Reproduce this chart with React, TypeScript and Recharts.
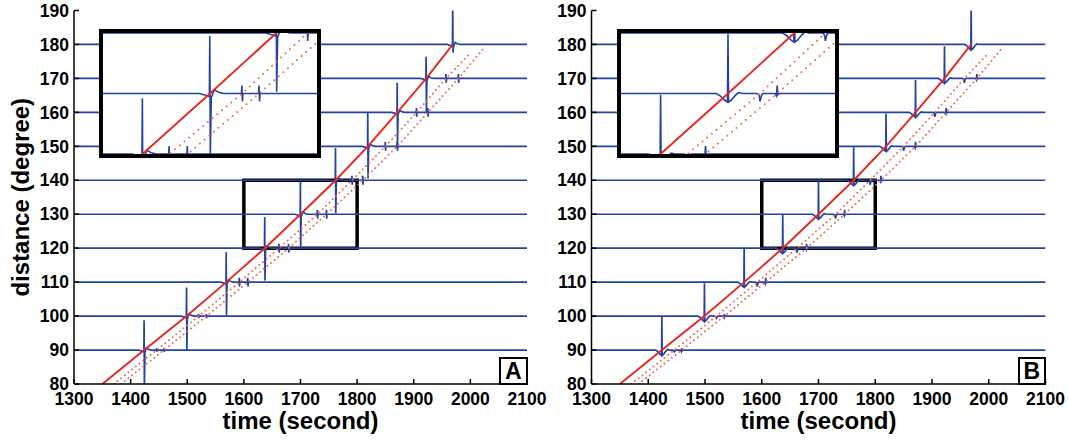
import { ComposedChart, Line, XAxis, YAxis, ReferenceArea } from "recharts";

const TIME_TICKS = [1300, 1400, 1500, 1600, 1700, 1800, 1900, 2000, 2100];
const DIST_TICKS = [80, 90, 100, 110, 120, 130, 140, 150, 160, 170, 180, 190];

// one recorded trace per electrode position (degree)
const LEVELS = [90, 100, 110, 120, 130, 140, 150, 160, 170, 180];
// time the front reaches each trace (s)
const ARRIVAL = [1424, 1499, 1569, 1637, 1700, 1762, 1819, 1871, 1922, 1969];

// solid red front line
const FRONT_T = [1350, 1424, 1499, 1569, 1637, 1700, 1762, 1819, 1871, 1922, 1969];
const FRONT_D = [80, 90, 100, 110, 120, 130, 140, 150, 160, 170, 180];
// dotted follower lines
const NEAR_T = [1370, 1446, 1520, 1592, 1662, 1730, 1791, 1850, 1905, 1957, 2000];
const NEAR_D = [80, 90, 100, 110, 120, 130, 140, 150, 160, 170, 177.5];
const FAR_T = [1383, 1459, 1534, 1607, 1679, 1746, 1810, 1871, 1925, 1979, 2022];
const FAR_D = [80, 90, 100, 110, 120, 130, 140, 150, 160, 170, 178.6];

// size of the small blips where the dotted lines cross a trace
const ECHO_SIZE = [0.5, 0.6, 1.3, 1.3, 1.3, 1.3, 1.3, 1.3, 1.3, 0];

// panel A: biphasic spike, top and bottom
const PEAK_A = [98.8, 108.4, 118.8, 129.2, 139.5, 149.5, 160, 168.7, 176.4, 193];
const TROUGH_A = [79, 90, 100.3, 110.5, 120, 130.3, 140.5, 149.5, 160, 177.6];
// panel B: upward spike sitting in a shallow dip
const PEAK_B = [99.9, 109.7, 119.8, 129.8, 139.8, 149.7, 159.6, 169.5, 179.5, 193];
const DIP_B = [1.6, 1.6, 1.5, 1.5, 1.4, 1.5, 1.5, 1.4, 1.4, 1.6];

type Pt = { t: number; d: number };
const toPts = (ts: number[], ds: number[]): Pt[] => ts.map((t, i) => ({ t, d: ds[i] }));

const FRONT = toPts(FRONT_T, FRONT_D);
const NEAR = toPts(NEAR_T, NEAR_D);
const FAR = toPts(FAR_T, FAR_D);

function traceA(i: number): Pt[] {
  const b = LEVELS[i];
  const t = ARRIVAL[i];
  const e = ECHO_SIZE[i];
  const p: [number, number][] = [
    [1300, b],
    [t - 10, b],
    [t - 4, b - 0.3],
    [t - 0.6, b - 0.5],
    [t - 0.2, PEAK_A[i]],
    [t + 0.3, TROUGH_A[i]],
    [t + 1.2, b - 0.7],
    [t + 4, b + 0.6],
    [t + 8, b + 0.2],
    [t + 13, b],
  ];
  if (e > 0) {
    for (const et of [NEAR_T[i + 1], FAR_T[i + 1]]) {
      p.push([et - 0.6, b], [et - 0.2, b + e], [et + 0.3, b - e], [et + 0.8, b]);
    }
  }
  p.push([2100, b]);
  return p.map(([t, d]) => ({ t, d }));
}

function traceB(i: number): Pt[] {
  const b = LEVELS[i];
  const t = ARRIVAL[i];
  const dip = DIP_B[i];
  const e = ECHO_SIZE[i];
  const p: [number, number][] = [
    [1300, b],
    [t - 11, b],
    [t - 7, b - 0.3 * dip],
    [t - 3, b - 0.8 * dip],
    [t - 0.5, b - dip],
    [t, PEAK_B[i]],
    [t + 0.5, b - dip],
    [t + 3, b - 0.8 * dip],
    [t + 7, b - 0.2 * dip],
    [t + 10, b + 0.15],
    [t + 14, b],
  ];
  if (e > 0) {
    const n = NEAR_T[i + 1];
    const f = FAR_T[i + 1];
    p.push([n - 3, b], [n - 1, b - 0.2], [n, b - e], [n + 1.5, b - 0.2], [n + 3, b]);
    p.push([f - 2, b], [f - 0.7, b - 0.4], [f, b + e], [f + 0.6, b - 0.2], [f + 2, b]);
  }
  p.push([2100, b]);
  return p.map(([t, d]) => ({ t, d }));
}

const TRACES_A = LEVELS.map((_, i) => traceA(i));
const TRACES_B = LEVELS.map((_, i) => traceB(i));

const FONT = "'Liberation Sans', Arial, Helvetica, sans-serif";
const TRACE_COLOR = "#2343a4";
const FRONT_COLOR = "#e8261c";
const DOT_COLOR = "#f26a48";
const TICK = { fontSize: 17.5, fontWeight: 700, fill: "#000", fontFamily: FONT };
const FRAME = { stroke: "#000", strokeWidth: 1.5 };

function seriesLines(traces: Pt[][], w: number, gap: number) {
  const dotted = {
    type: "linear" as const,
    stroke: DOT_COLOR,
    strokeWidth: 1.9,
    strokeDasharray: `0.1 ${gap}`,
    strokeLinecap: "round" as const,
    dot: false,
    activeDot: false,
    isAnimationActive: false,
  };
  return [
    ...traces.map((pts, i) => (
      <Line
        key={"tr" + i}
        data={pts}
        dataKey="d"
        type="linear"
        stroke={TRACE_COLOR}
        strokeWidth={w}
        dot={false}
        activeDot={false}
        isAnimationActive={false}
      />
    )),
    <Line key="near" data={NEAR} dataKey="d" {...dotted} />,
    <Line key="far" data={FAR} dataKey="d" {...dotted} />,
    <Line key="front" data={FRONT} dataKey="d" type="linear" stroke={FRONT_COLOR} strokeWidth={1.9}
      dot={false} activeDot={false} isAnimationActive={false} />,
  ];
}

function Panel({
  traces,
  left,
  width,
  axisWidth,
  rightMargin,
  letter,
  showYTitle,
}: {
  traces: Pt[][];
  left: number;
  width: number;
  axisWidth: number;
  rightMargin: number;
  letter: string;
  showYTitle: boolean;
}) {
  const plotRight = left + width - rightMargin;
  const plotLeft = left + axisWidth;
  return (
    <>
      <div style={{ position: "absolute", left, top: 0 }}>
        <ComposedChart width={width} height={440} margin={{ top: 10.5, right: rightMargin, bottom: 0, left: 0 }}>
          <XAxis
            type="number"
            dataKey="t"
            domain={[1300, 2100]}
            ticks={TIME_TICKS}
            allowDataOverflow
            height={56}
            tickSize={-5}
            tickMargin={13.5}
            tick={TICK}
            axisLine={FRAME}
            tickLine={FRAME}
            label={{
              value: "time (second)",
              position: "insideBottom",
              offset: 11,
              fontSize: 24,
              fontWeight: 700,
              fill: "#000",
              fontFamily: FONT,
            }}
          />
          <XAxis
            xAxisId="top"
            orientation="top"
            type="number"
            domain={[1300, 2100]}
            ticks={TIME_TICKS}
            height={0}
            tickSize={-5}
            tick={false}
            axisLine={FRAME}
            tickLine={FRAME}
          />
          <YAxis
            type="number"
            dataKey="d"
            domain={[80, 190]}
            ticks={DIST_TICKS}
            allowDataOverflow
            width={axisWidth}
            tickSize={-5}
            tickMargin={10}
            tick={TICK}
            axisLine={FRAME}
            tickLine={FRAME}
            label={
              showYTitle
                ? {
                    value: "distance (degree)",
                    angle: -90,
                    position: "insideLeft",
                    offset: 20.5,
                    textAnchor: "middle",
                    fontSize: 24,
                    fontWeight: 700,
                    fill: "#000",
                    fontFamily: FONT,
                  }
                : undefined
            }
          />
          <YAxis
            yAxisId="right"
            orientation="right"
            type="number"
            domain={[80, 190]}
            ticks={DIST_TICKS}
            width={0}
            tickSize={-5}
            tick={false}
            axisLine={FRAME}
            tickLine={FRAME}
          />
          {seriesLines(traces, 1.7, 4.6)}
          <ReferenceArea x1={1600} x2={1800} y1={120} y2={140} fill="none" fillOpacity={0} stroke="#000" strokeWidth={3.5} />
        </ComposedChart>
      </div>
      <div
        style={{
          position: "absolute",
          left: plotLeft + 25.3,
          top: 29.3,
          width: 222,
          height: 129,
          boxSizing: "border-box",
          border: "4px solid #000",
          background: "#fff",
        }}
      >
        <ComposedChart width={214} height={121} margin={{ top: 0, right: 0, bottom: 0, left: 0 }}>
          <XAxis hide type="number" dataKey="t" domain={[1600, 1800]} allowDataOverflow />
          <YAxis hide type="number" dataKey="d" domain={[120, 140]} allowDataOverflow />
          {seriesLines(traces, 1.6, 6)}
        </ComposedChart>
      </div>
      <div
        style={{
          position: "absolute",
          left: plotRight - 28,
          top: 356.5,
          width: 28.5,
          height: 28,
          boxSizing: "border-box",
          border: "2px solid #000",
          background: "#fff",
          fontFamily: FONT,
          fontWeight: 700,
          fontSize: 23,
          lineHeight: "24px",
          textAlign: "center",
          color: "#000",
        }}
      >
        {letter}
      </div>
    </>
  );
}

export default function App() {
  return (
    <div style={{ position: "absolute", left: 0, top: 0, width: 1068, height: 440, background: "#fff", overflow: "hidden" }}>
      <Panel traces={TRACES_A} left={0} width={560} axisWidth={74} rightMargin={33} letter="A" showYTitle />
      <Panel traces={TRACES_B} left={534} width={534} axisWidth={57.5} rightMargin={22.5} letter="B" showYTitle={false} />
    </div>
  );
}
